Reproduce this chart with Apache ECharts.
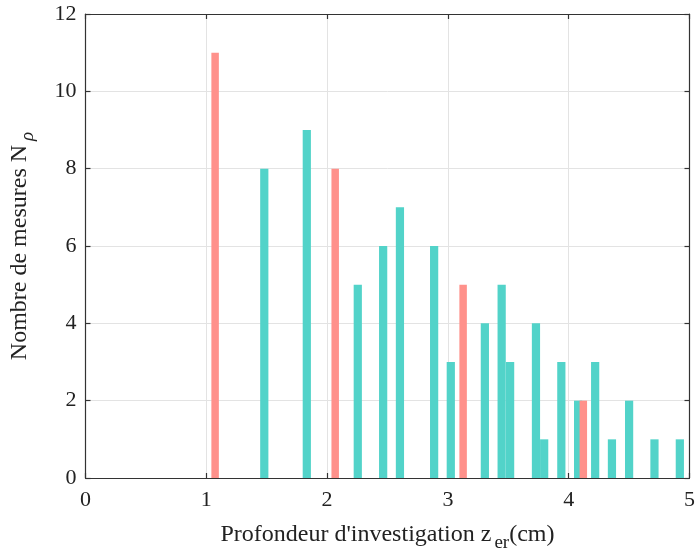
<!DOCTYPE html>
<html>
<head>
<meta charset="utf-8">
<script src="https://cdn.jsdelivr.net/npm/echarts@6/dist/echarts.min.js"></script>
<style>html,body{margin:0;padding:0;background:#fff;overflow:hidden;}#c{width:698px;height:558px;}</style>
</head>
<body>
<div id="c"></div>
<script>
// Teal series: [depth (cm), count]
const tealX = [1.48, 1.832, 2.254, 2.464, 2.603, 2.886, 3.024, 3.306, 3.445, 3.515, 3.729, 3.797, 3.939, 4.078, 4.219, 4.358, 4.50, 4.71, 4.92];
const tealY = [8, 9, 5, 6, 7, 6, 3, 4, 5, 3, 4, 1, 3, 2, 3, 1, 2, 1, 1];
// Salmon series
const salmonX = [1.073, 2.067, 3.126, 4.121];
const salmonY = [11, 8, 5, 2];
const xTicks = [0, 1, 2, 3, 4, 5];
const yTicks = [0, 2, 4, 6, 8, 10, 12];

const tealColor = '#52d3c9';
const salmonColor = '#ff918b';
const FONT = 'Liberation Serif';

function makeRender(width, color) {
  return function (params, api) {
    const x = api.value(0), y = api.value(1);
    const p0 = api.coord([x - width / 2, 0]);
    const p1 = api.coord([x + width / 2, y]);
    return {
      type: 'rect',
      shape: { x: p0[0], y: p1[1], width: p1[0] - p0[0], height: p0[1] - p1[1] },
      style: { fill: color }
    };
  };
}

const chart = echarts.init(document.getElementById('c'), null, { renderer: 'canvas', width: 698, height: 558 });
const axisLineStyle = { color: '#333', width: 1.2 };
chart.setOption({
  animation: false,
  backgroundColor: '#fff',
  grid: { left: 84, right: 3, top: 14, bottom: 74, containLabel: false },
  xAxis: [{
    type: 'value', min: xTicks[0], max: xTicks[xTicks.length - 1], interval: 1,
    axisLine: { show: true, onZero: false, lineStyle: axisLineStyle },
    axisTick: { show: true, inside: true, length: 5, lineStyle: axisLineStyle },
    axisLabel: { color: '#222', fontFamily: FONT, fontSize: 22, margin: 11 },
    splitLine: { show: true, lineStyle: { color: '#e3e3e3', width: 1 } },
    name: '{a|Profondeur d\'investigation z}{s|er}{a|(cm)}',
    nameLocation: 'middle', nameGap: 38,
    nameTextStyle: {
      color: '#222', fontFamily: FONT, fontSize: 24,
      rich: {
        a: { fontFamily: FONT, fontSize: 24, color: '#222' },
        s: { fontFamily: FONT, fontSize: 19, color: '#222', padding: [18, 0, 0, 3] }
      }
    }
  }, {
    type: 'value', position: 'top', min: 0, max: 5, interval: 1,
    axisLine: { show: true, onZero: false, lineStyle: axisLineStyle },
    axisTick: { show: true, inside: true, length: 5, lineStyle: axisLineStyle },
    axisLabel: { show: false }, splitLine: { show: false }
  }],
  yAxis: [{
    type: 'value', min: yTicks[0], max: yTicks[yTicks.length - 1], interval: 2,
    axisLine: { show: true, onZero: false, lineStyle: axisLineStyle },
    axisTick: { show: true, inside: true, length: 5, lineStyle: axisLineStyle },
    axisLabel: { color: '#222', fontFamily: FONT, fontSize: 22, margin: 9 },
    splitLine: { show: true, lineStyle: { color: '#e3e3e3', width: 1 } },
    name: '{a|Nombre de mesures N}{s|ρ}',
    nameLocation: 'middle', nameGap: 48, nameRotate: 90,
    nameTextStyle: {
      color: '#222', fontFamily: FONT, fontSize: 24,
      rich: {
        a: { fontFamily: FONT, fontSize: 24, color: '#222' },
        s: { fontFamily: FONT, fontSize: 19, fontStyle: 'italic', color: '#222', padding: [16, 0, 0, 4] }
      }
    }
  }, {
    type: 'value', position: 'right', min: 0, max: 12, interval: 2,
    axisLine: { show: true, onZero: false, lineStyle: axisLineStyle },
    axisTick: { show: true, inside: true, length: 5, lineStyle: axisLineStyle },
    axisLabel: { show: false }, splitLine: { show: false }
  }],
  series: [{
    type: 'custom', xAxisIndex: 0, yAxisIndex: 0,
    renderItem: makeRender(0.068, tealColor),
    encode: { x: 0, y: 1 },
    data: tealX.map((x, i) => [x, tealY[i]]),
    z: 2
  }, {
    type: 'custom', xAxisIndex: 0, yAxisIndex: 0,
    renderItem: makeRender(0.062, salmonColor),
    encode: { x: 0, y: 1 },
    data: salmonX.map((x, i) => [x, salmonY[i]]),
    z: 3
  }]
});
</script>
</body>
</html>
